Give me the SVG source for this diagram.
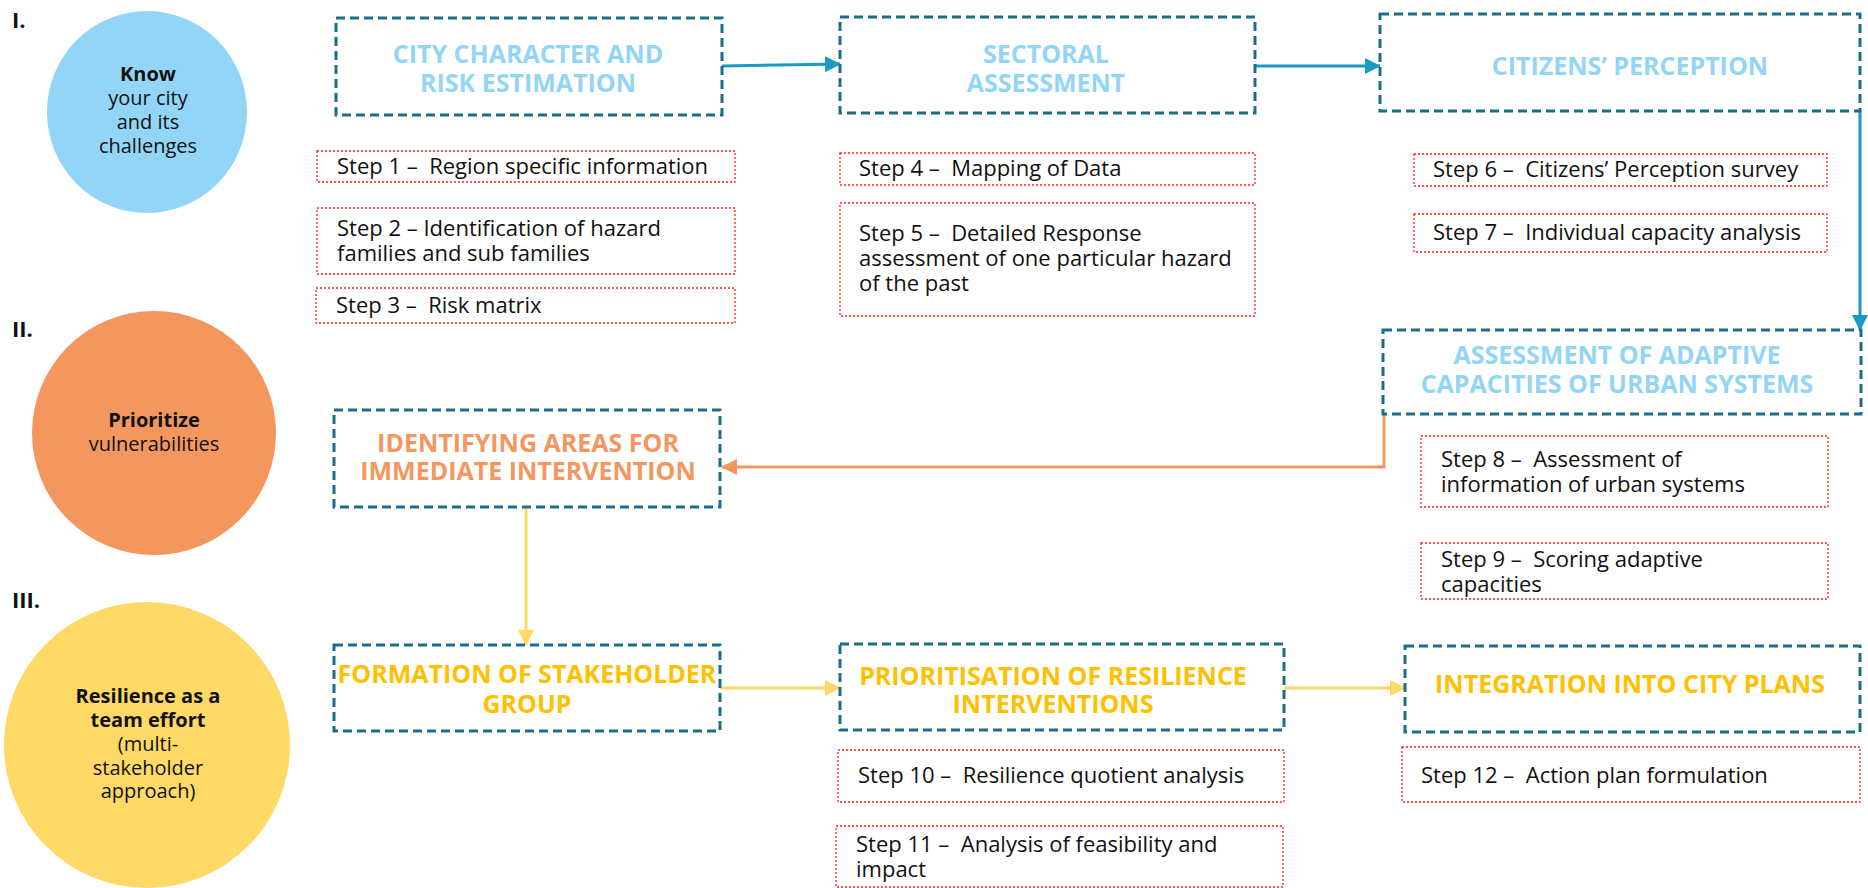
<svg xmlns="http://www.w3.org/2000/svg" width="1868" height="888" viewBox="0 0 1868 888">
  <defs>
    <style>
      .phase { font-family: "Open Sans", "Liberation Sans", sans-serif; font-size: 20px; fill: #111; text-anchor: middle; }
      .phase .b { font-weight: 700; }
      .num { font-family: "Open Sans", "Liberation Sans", sans-serif; font-size: 22px; font-weight: 700; fill: #111; }
      .stage { fill: #fff; stroke: #1B6E87; stroke-width: 3; stroke-dasharray: 9 5; }
      .title { font-family: "Open Sans", "Liberation Sans", sans-serif; font-size: 25px; font-weight: 700; text-anchor: middle; }
      .t-blue { fill: #92D5F6; }
      .t-orange { fill: #F4975E; }
      .t-yellow { fill: #FFC000; }
      .step { fill: #fff; stroke: #FF2020; stroke-width: 1.3; stroke-dasharray: 2 2; }
      .steptext { font-family: "Open Sans", "Liberation Sans", sans-serif; font-size: 22px; fill: #111; }
      .link { fill: none; stroke-width: 3; }
    </style>
    <marker id="ah-blue" markerUnits="userSpaceOnUse" markerWidth="16" markerHeight="16" viewBox="0 0 16 16" refX="15" refY="8" orient="auto">
      <path d="M0,0 L16,8 L0,16 z" fill="#1A9AC4"/>
    </marker>
    <marker id="ah-orange" markerUnits="userSpaceOnUse" markerWidth="16" markerHeight="16" viewBox="0 0 16 16" refX="15" refY="8" orient="auto">
      <path d="M0,0 L16,8 L0,16 z" fill="#F4975E"/>
    </marker>
    <marker id="ah-yellow" markerUnits="userSpaceOnUse" markerWidth="16" markerHeight="16" viewBox="0 0 16 16" refX="15" refY="8" orient="auto">
      <path d="M0,0 L16,8 L0,16 z" fill="#FFD966"/>
    </marker>
  </defs>

  <rect width="1868" height="888" fill="#fff"/>

  <!-- Phase labels and circles -->
  <g id="phase-1">
    <text class="num" x="12" y="28">I.</text>
    <ellipse cx="147" cy="112" rx="100" ry="101" fill="#92D5F6"/>
    <text class="phase" x="148" y="81"><tspan class="b">Know</tspan></text>
    <text class="phase" x="148" y="105">your city</text>
    <text class="phase" x="148" y="129">and its</text>
    <text class="phase" x="148" y="153">challenges</text>
  </g>

  <g id="phase-2">
    <text class="num" x="12" y="337">II.</text>
    <ellipse cx="154" cy="433" rx="122" ry="122" fill="#F4975E"/>
    <text class="phase" x="154" y="427"><tspan class="b">Prioritize</tspan></text>
    <text class="phase" x="154" y="451">vulnerabilities</text>
  </g>

  <g id="phase-3">
    <text class="num" x="12" y="608">III.</text>
    <ellipse cx="147" cy="745" rx="143" ry="143" fill="#FFD966"/>
    <text class="phase" x="148" y="703"><tspan class="b">Resilience as a</tspan></text>
    <text class="phase" x="148" y="727"><tspan class="b">team effort</tspan></text>
    <text class="phase" x="148" y="751">(multi-</text>
    <text class="phase" x="148" y="775">stakeholder</text>
    <text class="phase" x="148" y="798">approach)</text>
  </g>

  <!-- Connectors -->
  <g id="connectors">
    <path class="link" d="M722,66 L840,64" stroke="#1A9AC4" marker-end="url(#ah-blue)"/>
    <path class="link" d="M1255,66 L1380,66" stroke="#1A9AC4" marker-end="url(#ah-blue)"/>
    <path class="link" d="M1860,111 L1860,330" stroke="#1A9AC4" marker-end="url(#ah-blue)"/>
    <path class="link" d="M1384,414 L1384,467 L722,467" stroke="#F4975E" marker-end="url(#ah-orange)"/>
    <path class="link" d="M526,507 L526,645" stroke="#FFD966" marker-end="url(#ah-yellow)"/>
    <path class="link" d="M720,688 L840,688" stroke="#FFD966" marker-end="url(#ah-yellow)"/>
    <path class="link" d="M1284,688 L1405,688" stroke="#FFD966" marker-end="url(#ah-yellow)"/>
  </g>

  <!-- Stage boxes -->
  <g id="city-character">
    <rect class="stage" x="336" y="18" width="386" height="97"/>
    <text class="title t-blue" x="528" y="63">CITY CHARACTER AND</text>
    <text class="title t-blue" x="528" y="92">RISK ESTIMATION</text>
  </g>
  <g id="sectoral">
    <rect class="stage" x="840" y="17" width="415" height="96"/>
    <text class="title t-blue" x="1046" y="63">SECTORAL</text>
    <text class="title t-blue" x="1046" y="92">ASSESSMENT</text>
  </g>
  <g id="citizens">
    <rect class="stage" x="1380" y="14" width="480" height="97"/>
    <text class="title t-blue" x="1630" y="75">CITIZENS’ PERCEPTION</text>
  </g>
  <g id="adaptive">
    <rect class="stage" x="1383" y="330" width="478" height="84"/>
    <text class="title t-blue" x="1617" y="364">ASSESSMENT OF ADAPTIVE</text>
    <text class="title t-blue" x="1617" y="393">CAPACITIES OF URBAN SYSTEMS</text>
  </g>
  <g id="identifying">
    <rect class="stage" x="334" y="410" width="386" height="97"/>
    <text class="title t-orange" x="528" y="452">IDENTIFYING AREAS FOR</text>
    <text class="title t-orange" x="528" y="480">IMMEDIATE INTERVENTION</text>
  </g>
  <g id="formation">
    <rect class="stage" x="334" y="645" width="386" height="86"/>
    <text class="title t-yellow" x="527" y="683">FORMATION OF STAKEHOLDER</text>
    <text class="title t-yellow" x="527" y="713">GROUP</text>
  </g>
  <g id="prioritisation">
    <rect class="stage" x="840" y="644" width="444" height="86"/>
    <text class="title t-yellow" x="1053" y="685">PRIORITISATION OF RESILIENCE</text>
    <text class="title t-yellow" x="1053" y="713">INTERVENTIONS</text>
  </g>
  <g id="integration">
    <rect class="stage" x="1405" y="646" width="455" height="86"/>
    <text class="title t-yellow" x="1630" y="693">INTEGRATION INTO CITY PLANS</text>
  </g>

  <!-- Step boxes -->
  <g id="step-1">
    <rect class="step" x="317" y="151" width="418" height="31"/>
    <text class="steptext" x="337" y="174">Step 1 –&#160; Region specific information</text>
  </g>
  <g id="step-2">
    <rect class="step" x="317" y="208" width="418" height="66"/>
    <text class="steptext" x="337" y="236">Step 2 – Identification of hazard</text>
    <text class="steptext" x="337" y="261">families and sub families</text>
  </g>
  <g id="step-3">
    <rect class="step" x="316" y="288" width="419" height="35"/>
    <text class="steptext" x="336" y="313">Step 3 –&#160; Risk matrix</text>
  </g>
  <g id="step-4">
    <rect class="step" x="840" y="153" width="415" height="32"/>
    <text class="steptext" x="859" y="176">Step 4 –&#160; Mapping of Data</text>
  </g>
  <g id="step-5">
    <rect class="step" x="840" y="203" width="415" height="113"/>
    <text class="steptext" x="859" y="241">Step 5 –&#160; Detailed Response</text>
    <text class="steptext" x="859" y="266">assessment of one particular hazard</text>
    <text class="steptext" x="859" y="291">of the past</text>
  </g>
  <g id="step-6">
    <rect class="step" x="1414" y="154" width="413" height="32"/>
    <text class="steptext" x="1433" y="177">Step 6 –&#160; Citizens’ Perception survey</text>
  </g>
  <g id="step-7">
    <rect class="step" x="1414" y="214" width="413" height="38"/>
    <text class="steptext" x="1433" y="240">Step 7 –&#160; Individual capacity analysis</text>
  </g>
  <g id="step-8">
    <rect class="step" x="1421" y="436" width="407" height="71"/>
    <text class="steptext" x="1441" y="467">Step 8 –&#160; Assessment of</text>
    <text class="steptext" x="1441" y="492">information of urban systems</text>
  </g>
  <g id="step-9">
    <rect class="step" x="1421" y="543" width="407" height="56"/>
    <text class="steptext" x="1441" y="567">Step 9 –&#160; Scoring adaptive</text>
    <text class="steptext" x="1441" y="592">capacities</text>
  </g>
  <g id="step-10">
    <rect class="step" x="838" y="750" width="446" height="52"/>
    <text class="steptext" x="858" y="783">Step 10 –&#160; Resilience quotient analysis</text>
  </g>
  <g id="step-11">
    <rect class="step" x="836" y="826" width="447" height="61"/>
    <text class="steptext" x="856" y="852">Step 11 –&#160; Analysis of feasibility and</text>
    <text class="steptext" x="856" y="877">impact</text>
  </g>
  <g id="step-12">
    <rect class="step" x="1402" y="747" width="458" height="55"/>
    <text class="steptext" x="1421" y="783">Step 12 –&#160; Action plan formulation</text>
  </g>
</svg>
